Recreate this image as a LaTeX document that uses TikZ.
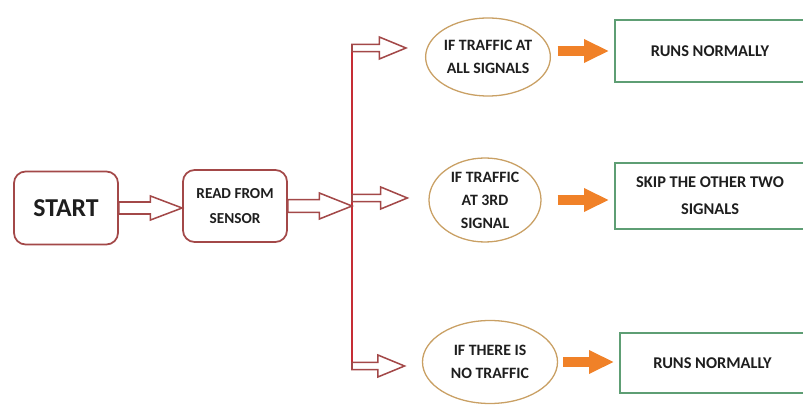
\documentclass[tikz,border=0pt]{standalone}
\usepackage{fontspec}
\setmainfont{Carlito}
\usetikzlibrary{arrows.meta,shapes.geometric,calc,positioning}

\definecolor{boxred}{HTML}{A34848}
\definecolor{linered}{HTML}{C62D35}
\definecolor{elltan}{HTML}{C9A064}
\definecolor{boxgreen}{HTML}{5E9E74}
\definecolor{arroworange}{HTML}{F08128}
\definecolor{textdark}{HTML}{1E1E1E}

\begin{document}
\begin{tikzpicture}[
        rbox/.style={draw=boxred, line width=1.5pt, rounded corners=0.35cm, fill=white, align=center, text=textdark, minimum width=3.12cm, minimum height=2.16cm, font=\bfseries\fontsize{13}{21}\selectfont},
        cond/.style={ellipse, draw=elltan, line width=1.1pt, inner sep=0pt, align=center, text=textdark, font=\bfseries\fontsize{13.5}{19.6}\selectfont},
        result/.style={draw=boxgreen, line width=1.6pt, align=center, text=textdark, font=\bfseries\fontsize{14}{23}\selectfont},
        hollow/.style n args={3}{draw=boxred, line width=1.3pt, fill=white, line join=miter,
            to path={let \p1=(\tikztostart), \p2=(\tikztotarget) in
                (\x1,\y1+#1) -- (\x2-#3,\y1+#1) -- (\x2-#3,\y1+#2) -- (\x2,\y1)
                -- (\x2-#3,\y1-#2) -- (\x2-#3,\y1-#1) -- (\x1,\y1-#1) -- cycle}},
        trunk/.style={draw=linered, line width=2.4pt},
        go/.style={draw=arroworange, line width=0.3cm, -{Triangle[length=0.75cm, width=0.66cm]}, shorten >=0.15cm}
    ]
    \clip (0,0) rectangle (24.09,12.15);

    % Start and sensor
    \node[rbox, minimum height=2.19cm, font=\bfseries\fontsize{22}{26}\selectfont] (start) at (1.98,5.91) {START};
    \node[rbox] (read) at (7.05,5.97) {READ FROM\\SENSOR};

    % Branching line
    \coordinate (jtop) at (10.56,10.71);
    \coordinate (jmid) at (10.56,6.21);
    \coordinate (jbot) at (10.56,1.17);
    \draw[trunk] ([yshift=2pt]jtop) -- ([yshift=-3pt]jbot);

    % Conditions
    \node[cond, minimum width=3.66cm, minimum height=2.34cm] (c1) at (14.64,10.44) {IF TRAFFIC AT\\ALL SIGNALS};
    \node[cond, minimum width=3.36cm, minimum height=2.52cm] (c2) at (14.55,6.15) {IF TRAFFIC\\AT 3RD\\SIGNAL};
    \node[cond, minimum width=4.05cm, minimum height=2.49cm] (c3) at (14.70,1.29) {IF THERE IS\\NO TRAFFIC};

    % Results
    \node[result, minimum width=5.7cm, minimum height=1.86cm] (r1) at (21.30,10.62) {RUNS NORMALLY};
    \node[result, minimum width=5.7cm, minimum height=1.98cm] (r2) at (21.30,6.27) {SKIP THE OTHER TWO\\SIGNALS};
    \node[result, minimum width=5.55cm, minimum height=1.80cm] (r3) at (21.375,1.26) {RUNS NORMALLY};

    % Hollow arrows
    \draw[hollow={0.18cm}{0.36cm}{0.95cm}] (start.east) to (read.west);
    \draw[hollow={0.19cm}{0.39cm}{0.98cm}] (read.east) to (read.east -| jmid);
    \draw[hollow={0.11cm}{0.33cm}{0.80cm}] (jtop) to ([xshift=-0.57cm]c1.west);
    \draw[hollow={0.11cm}{0.33cm}{0.80cm}] (jmid) to ([xshift=-0.63cm]c2.west);
    \draw[hollow={0.11cm}{0.33cm}{0.80cm}] (jbot) to ([xshift=-0.52cm]c3.west);

    % Orange arrows
    \draw[go] ([xshift=0.2cm]c1.east |- r1.west) -- (r1.west);
    \draw[go] ([xshift=0.48cm]c2.east) -- (c2.east -| r2.west);
    \draw[go] ([xshift=0.15cm]c3.east) -- (c3.east -| r3.west);

\end{tikzpicture}
\end{document}
